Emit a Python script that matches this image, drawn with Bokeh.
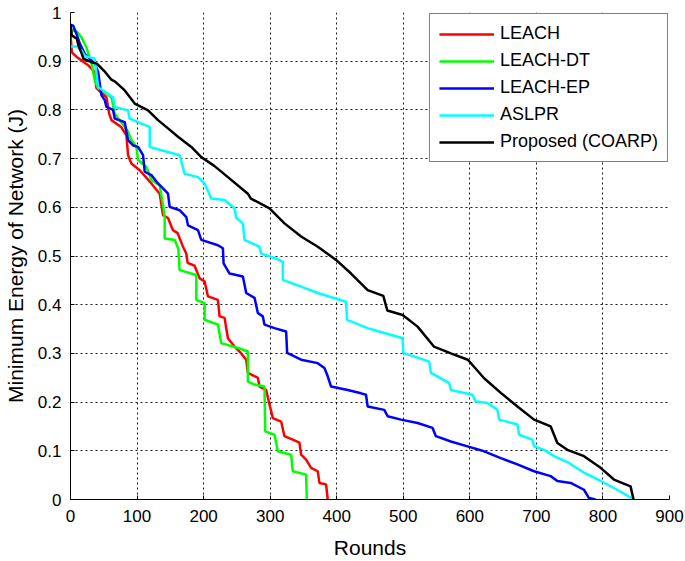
from bokeh.plotting import figure
from bokeh.models import FixedTicker, Legend, LegendItem, Range1d
from bokeh.embed import file_html
from bokeh.resources import INLINE

# ---------------- data ----------------
x_ticks = [0, 100, 200, 300, 400, 500, 600, 700, 800, 900]
y_ticks = [0, 0.1, 0.2, 0.3, 0.4, 0.5, 0.6, 0.7, 0.8, 0.9, 1.0]
y_tick_labels = ["0", "0.1", "0.2", "0.3", "0.4", "0.5", "0.6", "0.7", "0.8", "0.9", "1"]

series_names = ["LEACH", "LEACH-DT", "LEACH-EP", "ASLPR", "Proposed (COARP)"]
series_colors = ["#ff0000", "#00ff00", "#0000ff", "#00ffff", "#000000"]

leach_x = [0, 2, 10, 27, 36, 39, 54, 58, 61.5, 76, 84, 86.5, 91.5, 104, 121.5, 134, 139, 146.5,
           154, 161, 169, 174, 176, 186.5, 194, 201.5, 206.5, 221.5, 224, 231.5, 236.5, 246.5,
           256.5, 264, 266.5, 281.5, 284, 294, 299, 304, 316.5, 321.5, 334, 344, 346.5, 354,
           361.5, 371.5, 374, 384, 386.5]
leach_y = [0.955, 0.918, 0.908, 0.891, 0.878, 0.845, 0.826, 0.793, 0.779, 0.765, 0.748, 0.707,
           0.69, 0.676, 0.649, 0.628, 0.584, 0.578, 0.553, 0.547, 0.519, 0.505, 0.486, 0.48,
           0.454, 0.448, 0.417, 0.41, 0.376, 0.373, 0.331, 0.314, 0.30, 0.287, 0.26, 0.25,
           0.232, 0.225, 0.195, 0.167, 0.16, 0.13, 0.123, 0.117, 0.092, 0.082, 0.065, 0.058,
           0.034, 0.031, 0.0]

leachdt_x = [0, 10, 16.5, 24, 31.5, 36.5, 41.5, 61.5, 66.5, 81.5, 86.5, 91.5, 99, 101.5, 114,
             121.5, 134, 139, 141.5, 141.5, 156.5, 162, 164, 189, 189, 201.5, 201.5, 221.5,
             226.5, 251.5, 266.5, 266.5, 276.5, 291.5, 292.5, 306.5, 311.5, 331.5, 334, 354, 355]
leachdt_y = [0.965, 0.96, 0.949, 0.928, 0.895, 0.861, 0.845, 0.826, 0.792, 0.765, 0.755, 0.738,
             0.724, 0.697, 0.683, 0.656, 0.645, 0.604, 0.58, 0.536, 0.533, 0.515, 0.471, 0.461,
             0.41, 0.403, 0.369, 0.359, 0.321, 0.311, 0.304, 0.242, 0.236, 0.232, 0.14, 0.133,
             0.099, 0.092, 0.058, 0.051, 0.0]

leachep_x = [0, 4, 9, 14, 21.5, 36.5, 41.5, 44, 46.5, 51.5, 54, 64, 66.5, 81.5, 84, 86.5, 94,
             101.5, 109, 111.5, 121.5, 131.5, 139, 146.5, 149, 164, 174, 176.5, 191.5, 196.5,
             221.5, 229, 230, 239, 259, 264, 276.5, 281.5, 289, 291.5, 306.5, 324, 325.5, 346.5,
             371.5, 381.5, 386.5, 391.5, 416.5, 436.5, 444, 446.5, 471.5, 476.5, 496.5, 521.5,
             544, 549, 571.5, 596.5, 621.5, 646.5, 671.5, 696.5, 721.5, 731.5, 751.5, 771.5,
             779, 789]
leachep_y = [0.975, 0.973, 0.956, 0.936, 0.915, 0.895, 0.878, 0.854, 0.83, 0.82, 0.806, 0.8,
             0.782, 0.775, 0.755, 0.738, 0.727, 0.724, 0.707, 0.673, 0.666, 0.649, 0.639, 0.628,
             0.601, 0.594, 0.58, 0.563, 0.553, 0.533, 0.522, 0.516, 0.485, 0.464, 0.458, 0.424,
             0.414, 0.383, 0.376, 0.359, 0.352, 0.345, 0.301, 0.287, 0.28, 0.27, 0.253, 0.232,
             0.225, 0.218, 0.215, 0.191, 0.184, 0.171, 0.164, 0.157, 0.147, 0.13, 0.119, 0.109,
             0.099, 0.085, 0.072, 0.058, 0.048, 0.038, 0.034, 0.02, 0.003, 0.0]

aslpr_x = [0, 10, 16.5, 21.5, 36.5, 39, 41.5, 49, 64, 66.5, 86.5, 89, 106.5, 119, 119, 136.5,
           164, 171.5, 191.5, 201.5, 211.5, 231.5, 246.5, 249, 259, 261.5, 284, 286.5, 306.5,
           319, 319, 346.5, 371.5, 414, 415.5, 446.5, 471.5, 499, 500, 539, 541.5, 569, 571.5,
           604, 609, 626.5, 641.5, 644, 671.5, 674, 694, 696.5, 711.5, 726.5, 749, 771.5, 796.5,
           821.5, 846.5]
aslpr_y = [0.93, 0.93, 0.922, 0.911, 0.905, 0.874, 0.847, 0.84, 0.826, 0.806, 0.799, 0.782,
           0.772, 0.765, 0.724, 0.717, 0.707, 0.669, 0.662, 0.649, 0.618, 0.615, 0.598, 0.578,
           0.567, 0.533, 0.519, 0.505, 0.496, 0.488, 0.451, 0.437, 0.424, 0.406, 0.369, 0.352,
           0.342, 0.331, 0.301, 0.283, 0.26, 0.239, 0.225, 0.215, 0.201, 0.198, 0.184, 0.164,
           0.154, 0.133, 0.123, 0.109, 0.102, 0.089, 0.075, 0.055, 0.038, 0.02, 0.0]

coarp_x = [0, 2, 9.5, 12, 17, 19.5, 31.5, 39.5, 47, 52, 61.5, 67, 81.5, 96.5, 116.5, 131.5,
           146.5, 161.5, 181.5, 196.5, 216, 236.5, 266.5, 271, 299, 321.5, 346.5, 371.5, 399,
           421.5, 446.5, 470, 476, 499, 521.5, 546, 571.5, 597, 621.5, 646.5, 671.5, 696.5,
           721.5, 731.5, 746.5, 771.5, 796.5, 816.5, 841.5, 846]
coarp_y = [0.975, 0.953, 0.946, 0.932, 0.915, 0.905, 0.898, 0.895, 0.885, 0.878, 0.862, 0.858,
           0.84, 0.813, 0.799, 0.779, 0.762, 0.745, 0.724, 0.703, 0.685, 0.662, 0.628, 0.618,
           0.598, 0.567, 0.54, 0.519, 0.492, 0.464, 0.43, 0.418, 0.388, 0.379, 0.355, 0.314,
           0.30, 0.287, 0.249, 0.219, 0.191, 0.164, 0.15, 0.116, 0.102, 0.089, 0.065, 0.041,
           0.027, 0.0]

series_x = [leach_x, leachdt_x, leachep_x, aslpr_x, coarp_x]
series_y = [leach_y, leachdt_y, leachep_y, aslpr_y, coarp_y]

# ---------------- figure ----------------
FONT = "Liberation Sans"

p = figure(width=685, height=561, output_backend="svg", toolbar_location=None,
           x_range=Range1d(0, 900), y_range=Range1d(0, 1),
           min_border_left=69, min_border_right=16, min_border_top=12, min_border_bottom=61)
p.outline_line_color = None
p.background_fill_color = "white"
p.border_fill_color = "white"

items = []
for name, color, xs, ys in zip(series_names, series_colors, series_x, series_y):
    r = p.line(xs, ys, line_color=color, line_width=2.5)
    items.append(LegendItem(label=name, renderers=[r]))

# axes
p.xaxis.ticker = FixedTicker(ticks=x_ticks)
p.yaxis.ticker = FixedTicker(ticks=y_ticks)
p.yaxis.major_label_overrides = {t: l for t, l in zip(y_ticks, y_tick_labels)}
p.xaxis.axis_label = "Rounds"
p.yaxis.axis_label = "Minimum Energy of Network (J)"
for ax in (p.xaxis, p.yaxis):
    ax.axis_line_color = "black"
    ax.axis_line_width = 1
    ax.major_tick_line_color = "black"
    ax.major_tick_in = 4
    ax.major_tick_out = 0
    ax.minor_tick_line_color = None
    ax.major_label_text_font = FONT
    ax.major_label_text_font_size = "17px"
    ax.major_label_text_color = "black"
    ax.axis_label_text_font = FONT
    ax.axis_label_text_font_size = "21px"
    ax.axis_label_text_font_style = "normal"
    ax.axis_label_text_color = "black"
p.xaxis.major_label_standoff = 10
p.xaxis.axis_label_standoff = 11
p.yaxis.major_label_standoff = 9
p.yaxis.axis_label_standoff = 8

# grid
for g in (p.xgrid, p.ygrid):
    g.grid_line_color = "black"
    g.grid_line_alpha = 0.9
    g.grid_line_width = 1
    g.grid_line_dash = "2 3"

legend = Legend(items=items, location="top_right")
legend.label_text_font = FONT
legend.label_text_font_size = "18px"
legend.label_text_color = "black"
legend.glyph_width = 55
legend.glyph_height = 20
legend.label_height = 20
legend.label_standoff = 6
legend.spacing = 6
legend.padding = 9
legend.margin = 1
legend.border_line_color = "black"
legend.border_line_width = 1
legend.background_fill_color = "white"
legend.background_fill_alpha = 1
p.add_layout(legend)

open("out.html", "w").write(file_html(p, INLINE))
